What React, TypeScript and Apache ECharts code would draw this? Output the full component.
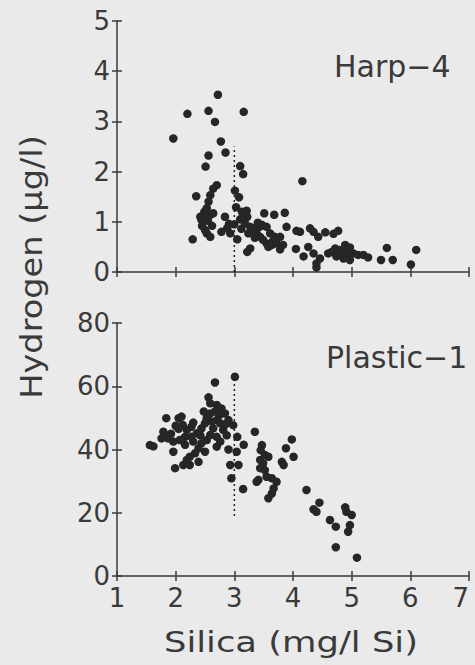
import React, { useEffect, useRef } from "react";
import * as echarts from "echarts";

const xMin = 1;
const xMax = 7;
const harpYMax = 5;
const harpYStep = 1;
const plasticYMax = 80;
const plasticYStep = 20;

const panelLabels = ["Harp\u22124", "Plastic\u22121"];
const xTitle = "Silica (mg/l Si)";
const yTitle = "Hydrogen (\u03bcg/l)";

// Harp-4: [silica, hydrogen]
const harpPoints: number[][] = [
  [2.72, 3.53], [2.2, 3.15], [2.56, 3.21], [3.16, 3.19], [2.67, 2.99], [1.96, 2.66],
  [2.77, 2.6], [2.56, 2.32], [2.85, 2.38], [2.51, 2.1], [3.1, 2.11], [3.15, 1.95],
  [2.7, 1.73], [2.64, 1.66], [2.35, 1.51], [3.01, 1.62], [3.08, 1.49], [2.59, 1.53],
  [2.56, 1.4], [2.53, 1.27], [2.47, 1.14], [2.42, 1.1], [2.59, 1.14], [2.64, 1.17],
  [2.44, 1.04], [2.5, 0.84], [2.53, 0.77], [2.59, 0.7], [2.29, 0.65], [2.78, 0.8],
  [2.84, 1.1], [2.91, 0.96], [2.93, 0.77], [3.05, 0.65], [3.03, 1.29], [3.13, 1.2],
  [3.21, 1.22], [3.22, 1.1], [3.18, 0.97], [3.27, 0.9], [3.24, 0.77], [3.32, 0.87],
  [3.38, 0.77], [3.44, 0.7], [3.49, 0.64], [3.55, 0.57], [3.64, 0.54], [3.72, 0.57],
  [3.69, 0.7], [3.61, 0.77], [3.55, 0.9], [3.43, 0.9], [3.51, 1.17], [3.68, 1.14],
  [3.86, 1.18], [3.22, 0.4], [3.27, 0.47], [3.47, 0.94], [3.89, 0.9],
  [2.49, 1.2], [2.55, 1.02], [2.45, 0.92], [2.88, 0.88], [3.12, 0.86], [3.3, 0.8],
  [3.35, 0.68], [3.58, 0.5], [3.78, 0.45], [3.66, 0.62], [3.4, 0.98], [2.62, 0.92],
  [3.0, 0.95], [3.1, 1.05],
  [4.16, 1.81], [4.06, 0.82], [4.12, 0.8], [4.29, 0.87], [4.35, 0.8], [4.43, 0.7],
  [4.55, 0.79], [4.69, 0.76], [4.77, 0.82], [3.83, 0.54], [3.78, 0.7], [4.05, 0.46],
  [4.26, 0.5], [4.18, 0.31], [4.35, 0.37], [4.4, 0.17], [4.46, 0.27], [4.6, 0.37],
  [4.72, 0.47], [4.8, 0.44], [4.89, 0.54], [4.97, 0.49], [4.74, 0.31], [4.86, 0.27],
  [4.97, 0.24], [5.03, 0.37], [5.11, 0.34], [5.2, 0.34], [5.28, 0.29], [4.91, 0.4],
  [5.6, 0.48], [5.5, 0.24], [5.7, 0.24], [6.01, 0.15], [6.1, 0.44], [4.83, 0.37],
  [4.66, 0.4], [4.4, 0.09], [4.88, 0.44], [4.93, 0.3],
];

// Plastic-1: [silica, hydrogen]
const plasticPoints: number[][] = [
  [3.01, 63.0], [2.67, 61.2], [2.56, 56.5], [2.59, 54.6], [2.7, 54.1], [2.78, 53.0],
  [2.84, 51.4], [2.9, 49.3], [2.98, 47.7], [1.84, 49.9], [2.05, 49.9], [2.1, 50.4],
  [2.0, 47.5], [2.05, 46.5], [1.79, 45.6], [1.87, 43.5], [1.76, 43.5], [1.56, 41.4],
  [1.96, 42.5], [2.07, 43.0], [2.16, 44.0], [2.19, 46.2], [2.27, 47.2], [2.36, 45.1],
  [2.44, 46.7], [2.5, 48.3], [2.53, 49.9], [2.59, 51.4], [2.67, 52.0], [2.7, 49.3],
  [2.76, 48.3], [2.81, 46.2], [2.64, 46.7], [2.59, 44.6], [2.53, 43.0], [2.44, 42.0],
  [2.39, 40.4], [2.33, 38.8], [2.24, 37.7], [2.19, 36.7], [2.13, 35.1], [1.96, 39.3],
  [1.99, 34.1], [2.24, 35.1], [2.39, 36.1], [2.5, 39.3], [2.7, 40.9], [2.76, 42.5],
  [2.7, 44.0], [2.27, 44.0], [3.35, 45.6], [3.04, 39.3], [2.93, 35.1],
  [3.07, 35.1], [2.95, 30.9], [3.41, 30.4], [3.15, 27.5],
  [3.16, 41.5], [3.47, 41.4], [3.45, 39.8], [3.52, 38.3], [3.58, 37.7], [3.44, 36.7],
  [3.49, 35.6], [3.44, 34.1], [3.52, 33.5], [3.98, 43.2], [3.88, 40.4], [4.01, 37.7],
  [3.81, 36.1], [3.84, 35.1], [3.38, 29.8], [3.55, 31.4], [3.64, 30.9], [3.72, 29.8],
  [3.67, 27.7], [3.64, 26.1], [3.58, 24.6], [4.23, 27.2], [4.45, 23.2], [4.35, 21.1],
  [4.4, 20.3], [4.63, 17.7], [4.73, 15.6], [4.89, 21.7], [4.91, 20.3], [5.0, 19.3],
  [4.97, 16.1], [4.94, 14.0], [4.73, 9.1], [5.09, 5.8],
  [1.62, 41.0], [1.92, 45.0], [2.12, 47.8], [2.3, 42.5], [2.42, 44.5], [2.62, 48.8],
  [2.74, 50.8], [2.87, 44.5], [2.85, 48.0], [2.16, 41.5], [2.3, 48.5], [2.48, 52.0],
  [3.05, 44.0], [2.9, 40.0],
];

const harpGuide: number[][] = [[3, 0], [3, 2.5]];
const plasticGuide: number[][] = [[3, 19], [3, 63]];

const FONT = "DejaVu Sans";
const INK = "#262626";
const TEXT = "#3a3a3a";
const BG = "#eaeaea";

function xAxesFor(gridIndex: number, showLabels: boolean) {
  const base: any = {
    type: "value",
    gridIndex,
    min: xMin,
    max: xMax,
    interval: 1,
    position: "bottom",
    splitLine: { show: false },
  };
  const lineStyle = { color: TEXT, width: 1.5 };
  return [
    {
      ...base,
      axisLine: { show: true, onZero: false, lineStyle },
      axisTick: { show: true, inside: false, length: 5, lineStyle },
      axisLabel: {
        show: showLabels,
        margin: 9,
        fontSize: 26,
        color: TEXT,
        fontFamily: FONT,
        alignMaxLabel: "right",
      },
    },
    {
      ...base,
      axisLine: { show: false },
      axisTick: { show: true, inside: true, length: 5, lineStyle },
      axisLabel: { show: false },
    },
  ];
}

function yAxesFor(gridIndex: number, max: number, step: number) {
  const base: any = {
    type: "value",
    gridIndex,
    min: 0,
    max,
    interval: step,
    position: "left",
    splitLine: { show: false },
  };
  const lineStyle = { color: TEXT, width: 1.5 };
  return [
    {
      ...base,
      axisLine: { show: true, onZero: false, lineStyle },
      axisTick: { show: true, inside: false, length: 5, lineStyle },
      axisLabel: {
        show: true,
        margin: 7,
        fontSize: 26,
        color: TEXT,
        fontFamily: FONT,
      },
    },
    {
      ...base,
      axisLine: { show: false },
      axisTick: { show: true, inside: true, length: 5, lineStyle },
      axisLabel: { show: false },
    },
  ];
}

export default function App() {
  const ref = useRef<HTMLDivElement>(null);

  useEffect(() => {
    document.body.style.margin = "0";
    document.body.style.background = BG;
    const chart = echarts.init(ref.current!, null, { renderer: "svg" });
    const option: any = {
      animation: false,
      backgroundColor: BG,
      grid: [
        { left: 117, right: 6, top: 21, height: 251, outerBoundsMode: "none", containLabel: false },
        { left: 117, right: 6, top: 323, height: 253, outerBoundsMode: "none", containLabel: false },
      ],
      xAxis: [...xAxesFor(0, false), ...xAxesFor(1, true)],
      yAxis: [
        ...yAxesFor(0, harpYMax, harpYStep),
        ...yAxesFor(1, plasticYMax, plasticYStep),
      ],
      series: [
        {
          type: "line",
          xAxisIndex: 0,
          yAxisIndex: 0,
          data: harpGuide,
          symbol: "none",
          lineStyle: { color: INK, width: 1.5, type: [2, 3] },
          z: 1,
        },
        {
          type: "line",
          xAxisIndex: 2,
          yAxisIndex: 2,
          data: plasticGuide,
          symbol: "none",
          lineStyle: { color: INK, width: 1.5, type: [2, 3] },
          z: 1,
        },
        {
          type: "scatter",
          xAxisIndex: 0,
          yAxisIndex: 0,
          data: harpPoints,
          symbol: "circle",
          symbolSize: 8.5,
          itemStyle: { color: INK, opacity: 1 },
          z: 2,
        },
        {
          type: "scatter",
          xAxisIndex: 2,
          yAxisIndex: 2,
          data: plasticPoints,
          symbol: "circle",
          symbolSize: 8.5,
          itemStyle: { color: INK, opacity: 1 },
          z: 2,
        },
      ],
      graphic: [
        {
          type: "text",
          x: 334,
          y: 66,
          style: {
            text: panelLabels[0],
            fontSize: 30,
            fontFamily: FONT,
            fill: TEXT,
            align: "left",
            verticalAlign: "middle",
          },
        },
        {
          type: "text",
          x: 326,
          y: 357,
          style: {
            text: panelLabels[1],
            fontSize: 30,
            fontFamily: FONT,
            fill: TEXT,
            align: "left",
            verticalAlign: "middle",
          },
        },
        {
          type: "text",
          x: 291,
          y: 642,
          scaleX: 1.22,
          style: {
            text: xTitle,
            fontSize: 29,
            fontFamily: FONT,
            fill: TEXT,
            align: "center",
            verticalAlign: "middle",
          },
        },
        {
          type: "text",
          x: 32,
          y: 267,
          rotation: Math.PI / 2,
          scaleX: 1.12,
          style: {
            text: yTitle,
            fontSize: 30,
            fontFamily: FONT,
            fill: TEXT,
            align: "center",
            verticalAlign: "middle",
          },
        },
      ],
    };
    chart.setOption(option);
    return () => chart.dispose();
  }, []);

  return (
    <div
      ref={ref}
      style={{ position: "absolute", left: 0, top: 0, width: 475, height: 665 }}
    />
  );
}
